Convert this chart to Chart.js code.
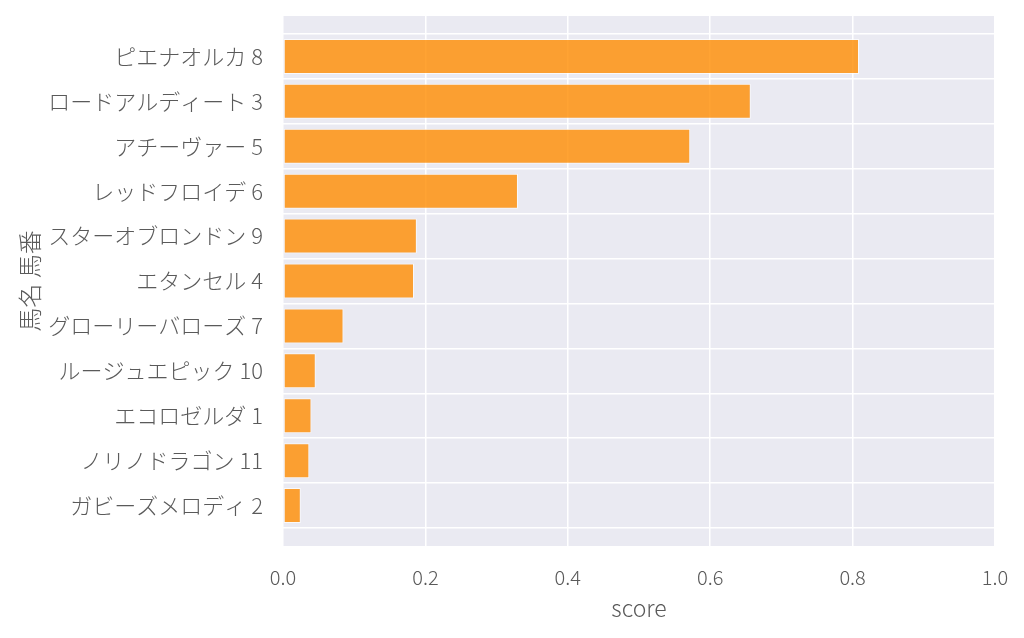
<!DOCTYPE html>
<html>
<head>
<meta charset="utf-8">
<script src="https://cdn.jsdelivr.net/npm/chart.js@4"></script>
<style>
  html, body { margin: 0; padding: 0; background: #fff; }
  #wrap { width: 1024px; height: 638px; }
</style>
</head>
<body>
<div id="wrap"><canvas id="myChart"></canvas></div>
<script>
// horses, top to bottom
const horses = [
    'ピエナオルカ 8',
    'ロードアルディート 3',
    'アチーヴァー 5',
    'レッドフロイデ 6',
    'スターオブロンドン 9',
    'エタンセル 4',
    'グローリーバローズ 7',
    'ルージュエピック 10',
    'エコロゼルダ 1',
    'ノリノドラゴン 11',
    'ガビーズメロディ 2'
];
const scores = [0.809, 0.657, 0.572, 0.330, 0.188, 0.184, 0.085, 0.046, 0.040, 0.037, 0.025];
const xTicks = [0, 0.2, 0.4, 0.6, 0.8, 1.0];

const FONT = '"Noto Sans CJK JP", "Noto Sans", sans-serif';
const TEXT = '#5a5a5a';

// seaborn-ish grey panel behind the plot
const panelBg = {
    id: 'panelBg',
    beforeDraw(chart) {
        const { ctx, chartArea: a } = chart;
        ctx.save();
        ctx.fillStyle = '#eaeaf2';
        ctx.fillRect(a.left, a.top, a.right - a.left, a.bottom - a.top);
        ctx.restore();
    }
};

document.addEventListener('DOMContentLoaded', () => {
    const ctx = document.getElementById('myChart').getContext('2d');
    const points = scores.map((v, i) => ({ x: v, y: i }));

    new Chart(ctx, {
        type: 'bar',
        data: {
            datasets: [{
                data: points,
                backgroundColor: 'rgba(255, 140, 0, 0.8)',
                borderColor: 'rgba(255, 255, 255, 0.7)',
                borderWidth: 1,
                borderSkipped: false,
                categoryPercentage: 1,
                barPercentage: 0.78
            }]
        },
        plugins: [panelBg],
        options: {
            indexAxis: 'y',
            responsive: true,
            maintainAspectRatio: false,
            animation: false,
            layout: { padding: { top: 16, right: 29, left: 0, bottom: 0 } },
            plugins: {
                legend: { display: false },
                tooltip: { enabled: false }
            },
            scales: {
                x: {
                    type: 'linear',
                    min: 0,
                    max: 1,
                    afterBuildTicks: s => { s.ticks = xTicks.map(v => ({ value: v })); },
                    afterFit: s => {
                        s.height = 92;
                        s.paddingLeft = 0;
                        s.paddingRight = 0;
                    },
                    grid: { color: '#ffffff', lineWidth: 1.5, drawTicks: false },
                    border: { display: false },
                    ticks: {
                        padding: 19,
                        color: TEXT,
                        font: { family: FONT, size: 20, weight: '300' },
                        callback: v => v.toFixed(1)
                    },
                    title: {
                        display: true,
                        text: 'score',
                        color: TEXT,
                        padding: { top: 0, bottom: 16 },
                        font: { family: FONT, size: 23, weight: '300' }
                    }
                },
                y: {
                    type: 'linear',
                    reverse: true,
                    offset: false,
                    min: -0.9,
                    max: horses.length - 0.1,
                    afterBuildTicks: s => { s.ticks = horses.map((_, i) => ({ value: i })); },
                    afterFit: s => {
                        s.width = 283;
                        s.paddingTop = 0;
                        s.paddingBottom = 0;
                    },
                    grid: { color: '#ffffff', lineWidth: 1.5, drawTicks: false },
                    border: { display: false },
                    ticks: {
                        padding: 20,
                        color: TEXT,
                        font: { family: FONT, size: 22, weight: '300' },
                        callback: v => horses[v] ?? ''
                    },
                    title: {
                        display: true,
                        text: '馬名 馬番',
                        color: TEXT,
                        padding: { top: 15, bottom: 0 },
                        font: { family: FONT, size: 24, weight: '300' }
                    }
                }
            }
        }
    });
});
</script>
</body>
</html>
